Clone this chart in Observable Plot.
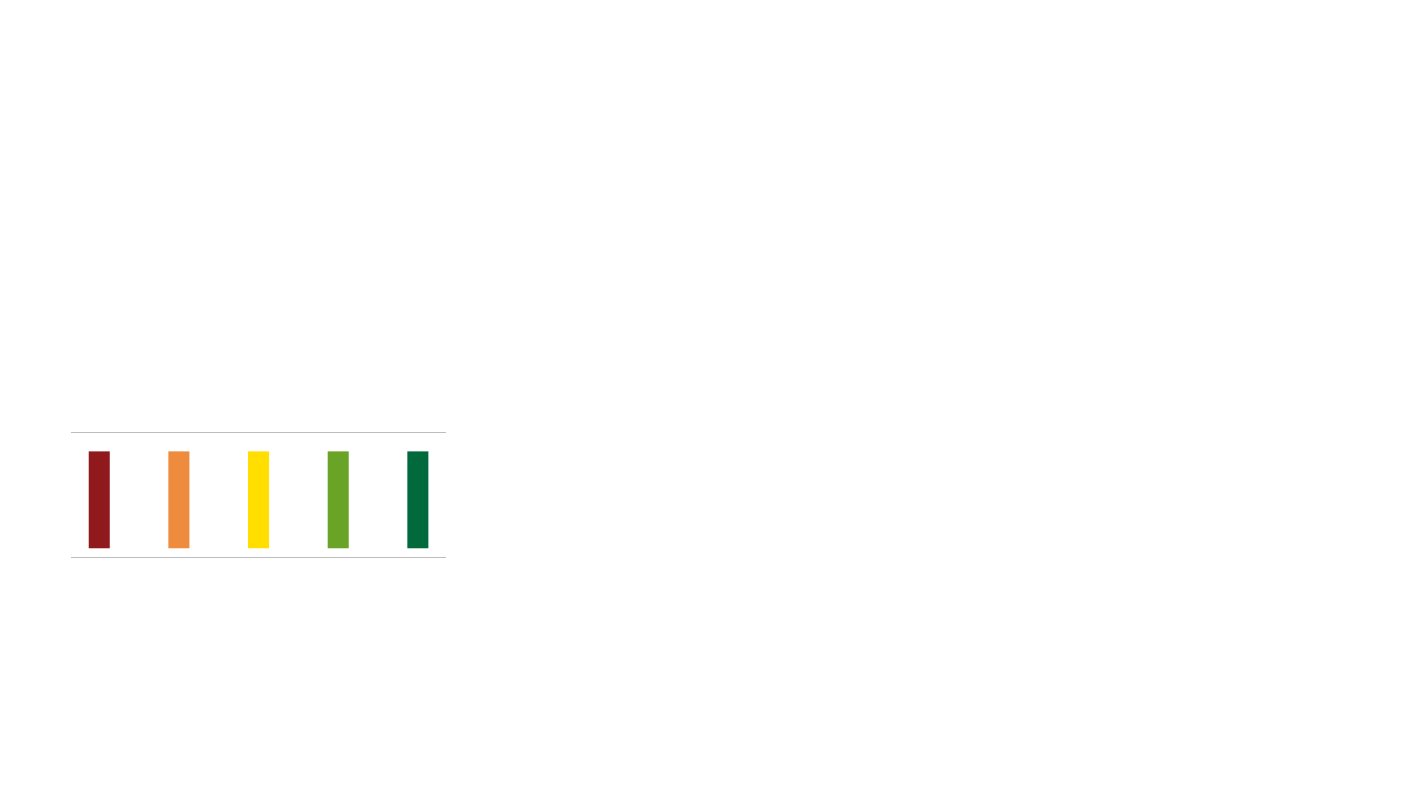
<!DOCTYPE html>
<html>
<head>
<meta charset="utf-8">
<script src="https://cdn.jsdelivr.net/npm/d3@7"></script>
<script src="https://cdn.jsdelivr.net/npm/@observablehq/plot@0.6"></script>
<style>
  html, body { margin: 0; padding: 0; background: #ffffff; }
  #chart svg { display: block; }
</style>
</head>
<body>
<div id="chart"></div>
<script>
const categories = ["1", "2", "3", "4", "5"];
const values = [1, 1, 1, 1, 1];
const colors = ["#8f191c", "#ef8b3c", "#ffde00", "#6aa427", "#006a3c"];
const ruleValues = [-0.09, 1.2];

const data = categories.map((c, i) => ({category: c, value: values[i], color: colors[i]}));

const chart = Plot.plot({
  width: 1425,
  height: 800,
  marginLeft: 71,
  marginRight: 979,
  marginTop: 432,
  marginBottom: 243,
  style: {background: "#ffffff"},
  x: {domain: categories, range: [30.1, 487], padding: 0.736, round: false, axis: null},
  y: {domain: ruleValues, axis: null},
  marks: [
    Plot.ruleY(ruleValues, {stroke: "#bdbdbd", strokeWidth: 1}),
    Plot.barY(data, {x: "category", y1: 0, y2: "value", fill: "color"})
  ]
});
document.getElementById("chart").appendChild(chart);
</script>
</body>
</html>
